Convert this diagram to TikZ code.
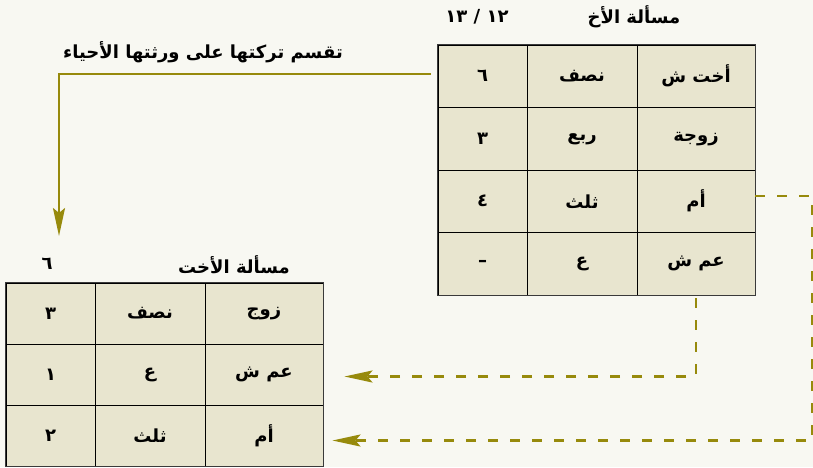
\documentclass[tikz,border=0pt]{standalone}
\usepackage{fontspec}
\usetikzlibrary{arrows.meta}
\TeXXeTstate=1
\newfontfamily\arabicfont[Script=Arabic]{DejaVu Sans}
\definecolor{paper}{HTML}{F8F8F2}
\definecolor{cellfill}{HTML}{E8E5CF}
\definecolor{olive}{HTML}{978A0C}
\definecolor{frame}{HTML}{3A3A3A}
\newcommand{\ar}[1]{\arabicfont\bfseries\beginR #1\endR}
\begin{document}
\begin{tikzpicture}[x=1pt, y=-1pt,
  cell/.style={draw=black, line width=0.9pt, fill=cellfill, inner sep=0pt,
    font=\arabicfont\bfseries\fontsize{18}{20}\selectfont},
  numcol/.style={cell, minimum width=89pt},
  sharecol/.style={cell, minimum width=110pt},
  heircol/.style={cell, minimum width=118pt},
  caption/.style={font=\arabicfont\bfseries\fontsize{18}{20}\selectfont},
  olivelink/.style={draw=olive, line width=2.4pt},
  dashlink/.style={olivelink, dash pattern=on 10pt off 12pt},
  tip/.style={-{Stealth[length=28pt, width=12pt, inset=5pt]}}]
\fill[paper] (0,0) rectangle (813,467);
\useasboundingbox (0,0) rectangle (813,467);
% brother's problem (right)
\node[caption] (bTitle) at (634,17) {\ar{مسألة الأخ}};
\node[caption] (bBase) at (477,17) {\ar{١٢ / ١٣}};
\begin{scope}[every node/.append style={minimum height=62.5pt}]
\node[numcol] (b-1-1) at (482.5,76.25) {٦};
\node[sharecol] (b-1-2) at (582,76.25) {\ar{نصف}};
\node[heircol] (b-1-3) at (696,76.25) {\ar{أخت ش}};
\node[numcol] (b-2-1) at (482.5,138.75) {٣};
\node[sharecol] (b-2-2) at (582,138.75) {\ar{ربع}};
\node[heircol] (b-2-3) at (696,138.75) {\ar{زوجة}};
\node[numcol] (b-3-1) at (482.5,201.25) {٤};
\node[sharecol] (b-3-2) at (582,201.25) {\ar{ثلث}};
\node[heircol] (b-3-3) at (696,201.25) {\ar{أم}};
\node[numcol] (b-4-1) at (482.5,263.75) {–};
\node[sharecol] (b-4-2) at (582,263.75) {\ar{ع}};
\node[heircol] (b-4-3) at (696,263.75) {\ar{عم ش}};
\end{scope}
\draw[frame, line width=1.8pt] (b-1-1.north west) rectangle (b-4-3.south east);
% sister's problem (left)
\node[caption] (sTitle) at (234,265) {\ar{مسألة الأخت}};
\node[caption] (sBase) at (47,264) {٦};
\begin{scope}[every node/.append style={minimum height=61pt}]
\node[numcol] (s-1-1) at (50.5,313.5) {٣};
\node[sharecol] (s-1-2) at (150,313.5) {\ar{نصف}};
\node[heircol] (s-1-3) at (264,313.5) {\ar{زوج}};
\node[numcol] (s-2-1) at (50.5,374.5) {١};
\node[sharecol] (s-2-2) at (150,374.5) {\ar{ع}};
\node[heircol] (s-2-3) at (264,374.5) {\ar{عم ش}};
\node[numcol] (s-3-1) at (50.5,435.5) {٢};
\node[sharecol] (s-3-2) at (150,435.5) {\ar{ثلث}};
\node[heircol] (s-3-3) at (264,435.5) {\ar{أم}};
\end{scope}
\draw[frame, line width=1.8pt] (s-1-1.north west) rectangle (s-3-3.south east);
% links
\node[caption] (split) at (203,52) {\ar{تقسم تركتها على ورثتها الأحياء}};
\coordinate (drop) at (59,236);
\draw[olivelink, tip] ([xshift=-7pt, yshift=2pt]b-1-1.west) -| (drop);
\draw[dashlink, tip] ([yshift=5pt]b-3-3.east) -- ++(57,0) |- ([xshift=9pt, yshift=-5pt]s-3-3.east);
\draw[dashlink, tip] ([yshift=-3pt]b-4-3.south) |- ([xshift=21pt, yshift=-2pt]s-2-3.east);
\end{tikzpicture}
\end{document}
